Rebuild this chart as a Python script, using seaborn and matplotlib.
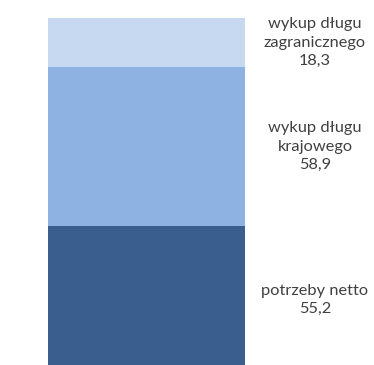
import matplotlib
matplotlib.use("Agg")
import matplotlib.pyplot as plt
import seaborn as sns
import pandas as pd

# Funding needs breakdown (bn), stacked bottom to top
segments = ["potrzeby netto", "wykup długu krajowego", "wykup długu zagranicznego"]
label_lines = ["potrzeby netto", "wykup długu\nkrajowego", "wykup długu\nzagranicznego"]
values = [55.2, 58.9, 18.3]
colors = ["#3A5F8E", "#8EB3E2", "#C6D9F0"]

sns.set_theme(style="white")
plt.rcParams["font.family"] = ["Lato", "DejaVu Sans"]

fig = plt.figure(figsize=(3.74, 3.65), dpi=100)
ax = fig.add_axes([0, -0.025, 1, 0.975])

df = pd.DataFrame({"cat": ["total"] * len(values), "seg": segments, "val": values})

bottom = 0.0
for seg, val, col, lab in zip(segments, values, colors, label_lines):
    sns.barplot(data=df[df["seg"] == seg], x="cat", y="val", bottom=bottom,
                color=col, width=0.8, saturation=1, ax=ax, errorbar=None,
                linewidth=0)
    ax.text(0.685, bottom + val / 2, f"{lab}\n{val:.1f}".replace(".", ","),
            ha="center", va="center", fontsize=11.8, color="#404040",
            linespacing=1.4)
    bottom += val

ax.set_xlim(-0.595, 0.925)
ax.set_ylim(0, sum(values))
ax.axis("off")

fig.savefig("out.png", dpi=100)
